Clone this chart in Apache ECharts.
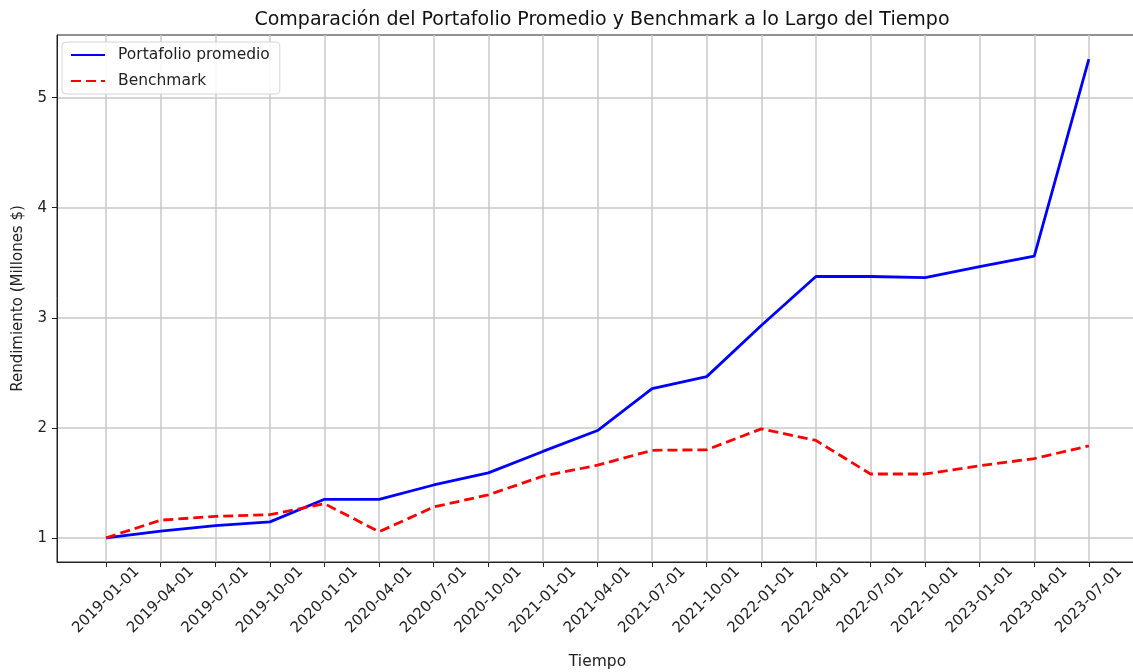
<!DOCTYPE html>
<html>
<head>
<meta charset="utf-8">
<script src="https://cdn.jsdelivr.net/npm/echarts@6/dist/echarts.min.js"></script>
<style>
  html, body { margin: 0; padding: 0; background: #fff; overflow: hidden; }
  #chart { width: 1133px; height: 672px; }
</style>
</head>
<body>
<div id="chart"></div>
<script>
// fechas trimestrales
var fechas = ['2019-01-01','2019-04-01','2019-07-01','2019-10-01','2020-01-01','2020-04-01','2020-07-01','2020-10-01','2021-01-01','2021-04-01','2021-07-01','2021-10-01','2022-01-01','2022-04-01','2022-07-01','2022-10-01','2023-01-01','2023-04-01','2023-07-01'];
var portafolio = [1.00, 1.06, 1.11, 1.145, 1.35, 1.35, 1.48, 1.59, 1.785, 1.975, 2.355, 2.465, 2.93, 3.375, 3.375, 3.365, 3.465, 3.56, 5.35];
var benchmark = [1.00, 1.16, 1.195, 1.21, 1.31, 1.055, 1.28, 1.39, 1.56, 1.66, 1.795, 1.80, 1.99, 1.885, 1.58, 1.58, 1.655, 1.72, 1.835];
var yTicks = [1, 2, 3, 4, 5];

var font = 'DejaVu Sans';
var xIdx = fechas.map(function (f, i) { return i; });

function pares(vals) {
  return vals.map(function (v, i) { return [i, v]; });
}

var chart = echarts.init(document.getElementById('chart'));
var option = {
  backgroundColor: '#fff',
  animation: false,
  textStyle: { fontFamily: font },
  title: {
    text: 'Comparación del Portafolio Promedio y Benchmark a lo Largo del Tiempo',
    left: 597,
    textAlign: 'center',
    top: 6,
    textStyle: { fontFamily: font, fontSize: 19, fontWeight: 'normal', color: '#111' }
  },
  legend: {
    left: 62,
    top: 42,
    orient: 'vertical',
    backgroundColor: 'rgba(255,255,255,0.85)',
    borderColor: '#d6d6d6',
    borderWidth: 1,
    borderRadius: 4,
    padding: [5, 10, 5, 8],
    itemWidth: 34,
    itemHeight: 14,
    itemGap: 10,
    itemStyle: { opacity: 0 },
    textStyle: { fontFamily: font, fontSize: 15.5, color: '#222', padding: [0, 0, 0, 8] },
    data: ['Portafolio promedio', 'Benchmark']
  },
  grid: {
    left: 57,
    top: 35,
    width: 1081,
    bottom: 110,
    outerBoundsMode: 'none',
    containLabel: false,
    show: true,
    borderColor: '#222',
    borderWidth: 1
  },
  xAxis: {
    type: 'value',
    min: -0.9,
    max: 18.9,
    name: 'Tiempo',
    nameLocation: 'middle',
    nameGap: 92,
    nameTextStyle: { fontFamily: font, fontSize: 15.5, color: '#222' },
    axisLine: { show: true, onZero: false, lineStyle: { color: '#222', width: 1 } },
    axisTick: { show: true, length: 5, customValues: xIdx, lineStyle: { color: '#222' } },
    axisLabel: {
      customValues: xIdx,
      rotate: 45,
      align: 'center',
      verticalAlign: 'middle',
      margin: 38,
      fontFamily: font,
      fontSize: 15,
      color: '#222',
      formatter: function (v) { return fechas[Math.round(v)]; }
    },
    splitLine: { show: true, lineStyle: { color: '#c8c8c8', width: 1.5 } }
  },
  yAxis: {
    type: 'value',
    min: 0.78,
    max: 5.57,
    name: 'Rendimiento (Millones $)',
    nameLocation: 'middle',
    nameGap: 31,
    nameTextStyle: { fontFamily: font, fontSize: 15, color: '#222' },
    axisLine: { show: true, onZero: false, lineStyle: { color: '#222', width: 1 } },
    axisTick: { show: true, length: 5, customValues: yTicks, lineStyle: { color: '#222' } },
    axisLabel: { customValues: yTicks, margin: 10, fontFamily: font, fontSize: 15, color: '#222' },
    splitLine: { show: true, lineStyle: { color: '#c8c8c8', width: 1.5 } }
  },
  series: [
    {
      name: 'Portafolio promedio',
      type: 'line',
      data: pares(portafolio),
      symbol: 'none',
      color: '#0000ff',
      lineStyle: { width: 2.8, color: '#0000ff' }
    },
    {
      name: 'Benchmark',
      type: 'line',
      data: pares(benchmark),
      symbol: 'none',
      color: '#ff0000',
      lineStyle: { width: 2.8, color: '#ff0000', type: [10, 5] }
    }
  ]
};
chart.setOption(option);
</script>
</body>
</html>
